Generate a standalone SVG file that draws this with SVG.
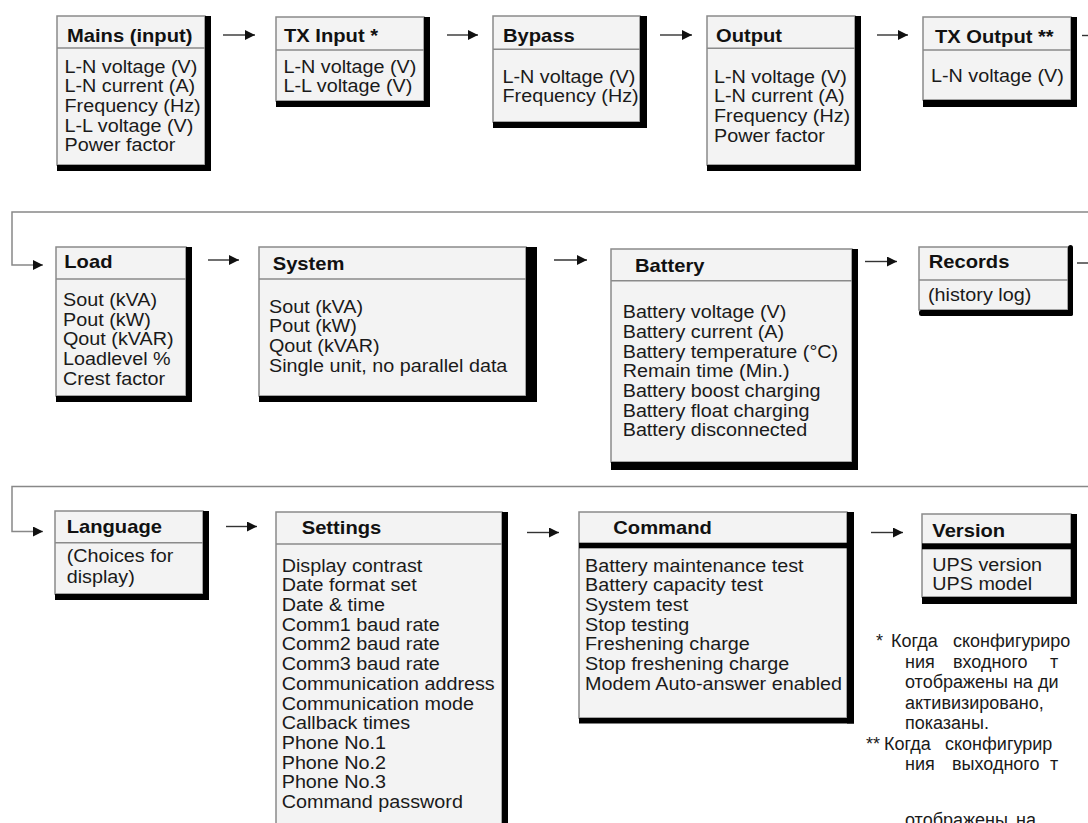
<svg xmlns="http://www.w3.org/2000/svg" width="1088" height="823" viewBox="0 0 1088 823">
<defs>
<style>
.box{fill:#f3f3f3;stroke:#8a8a8a;stroke-width:1.5}
.bar{fill:#000}
.hdr{stroke:#8a8a8a;stroke-width:1.5}
.t{font-family:"Liberation Sans",Arial,sans-serif;font-size:18px;font-weight:bold;fill:#111}
.b{font-family:"Liberation Sans",Arial,sans-serif;font-size:17.5px;fill:#1a1a1a}
.n{font-family:"Liberation Sans",Arial,"Noto Sans",sans-serif;font-size:18px;fill:#1a1a1a}
.conn{stroke:#333;stroke-width:1.4;fill:none}
.ret{stroke:#888;stroke-width:1.5;fill:none}
</style>
<marker id="ah" markerUnits="userSpaceOnUse" markerWidth="11" markerHeight="11" refX="10" refY="5" orient="auto">
<path d="M0,0 L10,5 L0,10 z" fill="#111"/>
</marker>
</defs>
<rect width="1088" height="823" fill="#fff"/>

<g id="connectors">
<line class="conn" x1="223" y1="35" x2="255" y2="35" marker-end="url(#ah)"/>
<line class="conn" x1="447" y1="35" x2="478" y2="35" marker-end="url(#ah)"/>
<line class="conn" x1="660" y1="35" x2="692" y2="35" marker-end="url(#ah)"/>
<line class="conn" x1="877" y1="35" x2="908" y2="35" marker-end="url(#ah)"/>
<line class="conn" x1="1082" y1="35.5" x2="1088" y2="35.5"/>
<path class="ret" d="M1088,212 H12 V265 H43" marker-end="url(#ah)"/>
<line class="conn" x1="208" y1="260" x2="239" y2="260" marker-end="url(#ah)"/>
<line class="conn" x1="554" y1="260" x2="587" y2="260" marker-end="url(#ah)"/>
<line class="conn" x1="865" y1="261.5" x2="897" y2="261.5" marker-end="url(#ah)"/>
<line class="conn" x1="1077" y1="263" x2="1088" y2="263"/>
<path class="ret" d="M1088,486.5 H12 V531.5 H43" marker-end="url(#ah)"/>
<line class="conn" x1="226" y1="526.5" x2="257" y2="526.5" marker-end="url(#ah)"/>
<line class="conn" x1="527" y1="532.5" x2="559" y2="532.5" marker-end="url(#ah)"/>
<line class="conn" x1="871" y1="532.5" x2="903" y2="532.5" marker-end="url(#ah)"/>
</g>

<g id="mains">
<rect class="box" x="57" y="16" width="148" height="149"/>
<line class="hdr" x1="57" y1="48" x2="205" y2="48"/>
<rect class="bar" x="205" y="16" width="6" height="155"/>
<rect class="bar" x="57" y="165" width="154" height="6"/>
<text class="t" transform="translate(67 41.5) scale(1.12 1)">Mains (input)</text>
<text class="b" transform="translate(64.5 0) scale(1.13 1)"><tspan x="0" y="72.7">L-N voltage (V)</tspan><tspan x="0" y="92.4">L-N current (A)</tspan><tspan x="0" y="112.1">Frequency (Hz)</tspan><tspan x="0" y="131.8">L-L voltage (V)</tspan><tspan x="0" y="151.5">Power factor</tspan></text>
</g>

<g id="tx-input">
<rect class="box" x="276" y="17" width="148" height="84"/>
<line class="hdr" x1="276" y1="50" x2="424" y2="50"/>
<rect class="bar" x="424" y="17" width="6" height="90"/>
<rect class="bar" x="276" y="101" width="154" height="6"/>
<text class="t" transform="translate(284 41.5) scale(1.12 1)">TX Input *</text>
<text class="b" transform="translate(283.5 0) scale(1.13 1)"><tspan x="0" y="72.7">L-N voltage (V)</tspan><tspan x="0" y="92.4">L-L voltage (V)</tspan></text>
</g>

<g id="bypass">
<rect class="box" x="493" y="16" width="147" height="106"/>
<line class="hdr" x1="493" y1="49.3" x2="640" y2="49.3"/>
<rect class="bar" x="640" y="16" width="7" height="112"/>
<rect class="bar" x="493" y="122" width="154" height="6"/>
<text class="t" transform="translate(503 41.7) scale(1.12 1)">Bypass</text>
<text class="b" transform="translate(502.5 0) scale(1.13 1)"><tspan x="0" y="82.7">L-N voltage (V)</tspan><tspan x="0" y="102.4">Frequency (Hz)</tspan></text>
</g>

<g id="output">
<rect class="box" x="707" y="16" width="148" height="149"/>
<line class="hdr" x1="707" y1="48.3" x2="855" y2="48.3"/>
<rect class="bar" x="855" y="16" width="6" height="155"/>
<rect class="bar" x="707" y="165" width="154" height="6"/>
<text class="t" transform="translate(716 41.7) scale(1.12 1)">Output</text>
<text class="b" transform="translate(714 0) scale(1.13 1)"><tspan x="0" y="82.7">L-N voltage (V)</tspan><tspan x="0" y="102.4">L-N current (A)</tspan><tspan x="0" y="122.1">Frequency (Hz)</tspan><tspan x="0" y="141.8">Power factor</tspan></text>
</g>

<g id="tx-output">
<rect class="box" x="923" y="17" width="148" height="83"/>
<line class="hdr" x1="923" y1="50" x2="1071" y2="50"/>
<rect class="bar" x="1071" y="17" width="6" height="90"/>
<rect class="bar" x="923" y="100" width="154" height="7"/>
<text class="t" transform="translate(935 42.5) scale(1.12 1)">TX Output **</text>
<text class="b" transform="translate(931 0) scale(1.13 1)"><tspan x="0" y="81.7">L-N voltage (V)</tspan></text>
</g>

<g id="load">
<rect class="box" x="56" y="247" width="130" height="149"/>
<line class="hdr" x1="56" y1="279" x2="186" y2="279"/>
<rect class="bar" x="186" y="247" width="6" height="155"/>
<rect class="bar" x="56" y="396" width="136" height="6"/>
<text class="t" transform="translate(64.3 268) scale(1.12 1)">Load</text>
<text class="b" transform="translate(63 0) scale(1.13 1)"><tspan x="0" y="306">Sout (kVA)</tspan><tspan x="0" y="325.7">Pout (kW)</tspan><tspan x="0" y="345.4">Qout (kVAR)</tspan><tspan x="0" y="365.1">Loadlevel %</tspan><tspan x="0" y="384.8">Crest factor</tspan></text>
</g>

<g id="system">
<rect class="box" x="259" y="247" width="267" height="149"/>
<line class="hdr" x1="259" y1="279" x2="537" y2="279"/>
<rect class="bar" x="526" y="247" width="11" height="155"/>
<rect class="bar" x="259" y="396" width="278" height="6"/>
<text class="t" transform="translate(272.7 270) scale(1.12 1)">System</text>
<text class="b" transform="translate(269 0) scale(1.13 1)"><tspan x="0" y="312.7">Sout (kVA)</tspan><tspan x="0" y="332.4">Pout (kW)</tspan><tspan x="0" y="352.1">Qout (kVAR)</tspan><tspan x="0" y="371.8">Single unit, no parallel data</tspan></text>
</g>

<g id="battery">
<rect class="box" x="611" y="249" width="241" height="213"/>
<line class="hdr" x1="611" y1="280.7" x2="852" y2="280.7"/>
<rect class="bar" x="852" y="249" width="6" height="221"/>
<rect class="bar" x="611" y="462" width="247" height="8"/>
<text class="t" transform="translate(635 271.7) scale(1.12 1)">Battery</text>
<text class="b" transform="translate(622.7 0) scale(1.13 1)"><tspan x="0" y="318.3">Battery voltage (V)</tspan><tspan x="0" y="338">Battery current (A)</tspan><tspan x="0" y="357.7">Battery temperature (°C)</tspan><tspan x="0" y="377.4">Remain time (Min.)</tspan><tspan x="0" y="397.1">Battery boost charging</tspan><tspan x="0" y="416.8">Battery float charging</tspan><tspan x="0" y="436.5">Battery disconnected</tspan></text>
</g>

<g id="records">
<rect class="box" x="919" y="247" width="149" height="63"/>
<line class="hdr" x1="919" y1="280" x2="1068" y2="280"/>
<rect class="bar" x="1068" y="245" width="5" height="71" rx="2.5"/>
<rect class="bar" x="919" y="310" width="154" height="6" rx="2.5"/>
<text class="t" transform="translate(928.7 268.3) scale(1.12 1)">Records</text>
<text class="b" transform="translate(928 0) scale(1.13 1)"><tspan x="0" y="301">(history log)</tspan></text>
</g>

<g id="language">
<rect class="box" x="55" y="511" width="148" height="83"/>
<line class="hdr" x1="55" y1="542.7" x2="203" y2="542.7"/>
<rect class="bar" x="203" y="511" width="6" height="89"/>
<rect class="bar" x="55" y="594" width="154" height="6"/>
<text class="t" transform="translate(66.7 533.3) scale(1.12 1)">Language</text>
<text class="b" transform="translate(66.7 0) scale(1.13 1)"><tspan x="0" y="562.5">(Choices for</tspan><tspan x="0" y="583">display)</tspan></text>
</g>

<g id="settings">
<rect class="box" x="276" y="512" width="226" height="330"/>
<line class="hdr" x1="276" y1="544" x2="502" y2="544"/>
<rect class="bar" x="502" y="512" width="6" height="330"/>
<text class="t" transform="translate(301.7 534) scale(1.12 1)">Settings</text>
<text class="b" transform="translate(281.7 0) scale(1.13 1)"><tspan x="0" y="571.7">Display contrast</tspan><tspan x="0" y="591.4">Date format set</tspan><tspan x="0" y="611.1">Date &amp; time</tspan><tspan x="0" y="630.8">Comm1 baud rate</tspan><tspan x="0" y="650.5">Comm2 baud rate</tspan><tspan x="0" y="670.2">Comm3 baud rate</tspan><tspan x="0" y="689.9">Communication address</tspan><tspan x="0" y="709.6">Communication mode</tspan><tspan x="0" y="729.3">Callback times</tspan><tspan x="0" y="749">Phone No.1</tspan><tspan x="0" y="768.7">Phone No.2</tspan><tspan x="0" y="788.4">Phone No.3</tspan><tspan x="0" y="808.1">Command password</tspan></text>
</g>

<g id="command">
<rect class="box" x="579" y="512" width="268" height="206"/>
<rect class="bar" x="579" y="542.7" width="268" height="5.6"/>
<rect class="bar" x="847" y="512" width="7" height="211.5"/>
<rect class="bar" x="579" y="718" width="275" height="5.5"/>
<text class="t" transform="translate(613.3 534) scale(1.12 1)">Command</text>
<text class="b" transform="translate(585 0) scale(1.13 1)"><tspan x="0" y="571.7">Battery maintenance test</tspan><tspan x="0" y="591.4">Battery capacity test</tspan><tspan x="0" y="611.1">System test</tspan><tspan x="0" y="630.8">Stop testing</tspan><tspan x="0" y="650.5">Freshening charge</tspan><tspan x="0" y="670.2">Stop freshening charge</tspan><tspan x="0" y="689.9">Modem Auto-answer enabled</tspan></text>
</g>

<g id="version">
<rect class="box" x="922" y="514" width="149" height="83"/>
<rect class="bar" x="922" y="543.3" width="149" height="6"/>
<rect class="bar" x="1071" y="514" width="6" height="90"/>
<rect class="bar" x="922" y="597" width="155" height="7"/>
<text class="t" transform="translate(932.3 536.7) scale(1.12 1)">Version</text>
<text class="b" transform="translate(932.3 0) scale(1.13 1)"><tspan x="0" y="570.7">UPS version</tspan><tspan x="0" y="590">UPS model</tspan></text>
</g>

<g id="footnotes">
<text class="n"><tspan x="876" y="647">*</tspan><tspan x="891" y="647">Когда</tspan><tspan x="953" y="647">сконфигуриро</tspan></text>
<text class="n"><tspan x="905" y="667.5">ния</tspan><tspan x="953" y="667.5">входного</tspan><tspan x="1050" y="667.5">т</tspan></text>
<text class="n" x="905" y="688">отображены на ди</text>
<text class="n" x="905" y="708.5">активизировано,</text>
<text class="n" x="905" y="729">показаны.</text>
<text class="n"><tspan x="866" y="749.5">**</tspan><tspan x="884" y="749.5">Когда</tspan><tspan x="945" y="749.5">сконфигурир</tspan></text>
<text class="n"><tspan x="905" y="770">ния</tspan><tspan x="952" y="770">выходного</tspan><tspan x="1050" y="770">т</tspan></text>
<text class="n"><tspan x="905" y="826">отображены</tspan><tspan x="1016" y="826">на</tspan></text>
</g>
</svg>
